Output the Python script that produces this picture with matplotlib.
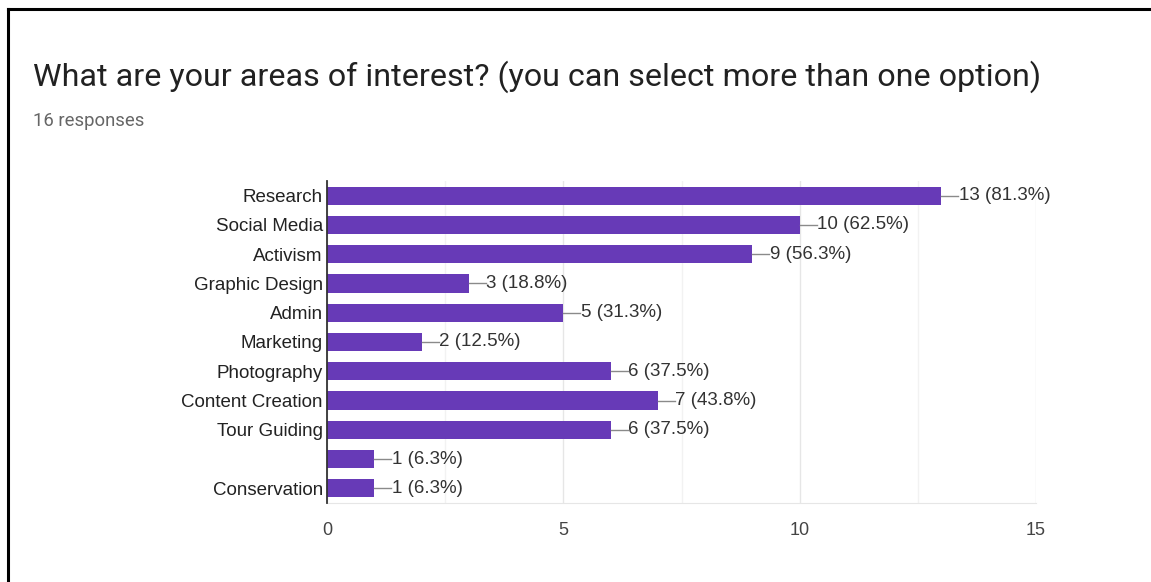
import matplotlib
matplotlib.use("Agg")
import matplotlib.pyplot as plt

categories = ["Research", "Social Media", "Activism", "Graphic Design", "Admin",
              "Marketing", "Photography", "Content Creation", "Tour Guiding", "",
              "Conservation"]
counts = [13, 10, 9, 3, 5, 2, 6, 7, 6, 1, 1]
percents = [81.3, 62.5, 56.3, 18.8, 31.3, 12.5, 37.5, 43.8, 37.5, 6.3, 6.3]
xticks = [0, 5, 10, 15]
title = "What are your areas of interest? (you can select more than one option)"
subtitle = "16 responses"

W, H = 1151, 582
fig = plt.figure(figsize=(W / 100, H / 100), dpi=100)
fig.patch.set_facecolor("white")

# frame border
fig.add_artist(plt.Line2D([8 / W, 8 / W], [0, 1 - 9 / H], color="black", lw=2.2,
                          transform=fig.transFigure))
fig.add_artist(plt.Line2D([8 / W, 1], [1 - 9 / H, 1 - 9 / H], color="black", lw=2.2,
                          transform=fig.transFigure))

fig.text(33 / W, 1 - 86 / H, title, fontsize=23.2, family=["Roboto", "DejaVu Sans"],
         color="#212121", va="baseline", ha="left")
fig.text(33 / W, 1 - 121 / H, subtitle, fontsize=13.3, family=["Roboto", "DejaVu Sans"],
         color="#666666", va="center", ha="left")

x0, x1 = 327, 1036
y0, y1 = 181, 503
ax = fig.add_axes([x0 / W, 1 - y1 / H, (x1 - x0) / W, (y1 - y0) / H])

n = len(categories)
ypos = list(range(n))
ax.barh(ypos, counts, height=0.62, color="#673ab7", zorder=3)
ax.set_ylim(n - 0.5, -0.5)
ax.set_xlim(0, 15)

font = ["Liberation Sans", "DejaVu Sans"]
for y, c, p in zip(ypos, counts, percents):
    ax.plot([c, c + 0.36], [y, y], color="#8a8a8a", lw=1.0, zorder=4, clip_on=False)
    ax.text(c + 0.37, y, f"{c} ({p}%)", va="center", ha="left", fontsize=13.5,
            color="#333333", family=font, clip_on=False)

ax.set_yticks(ypos)
ax.set_yticklabels(categories, fontsize=13.5, color="#222222", family=font)
ax.set_xticks(xticks)
ax.set_xticklabels([str(t) for t in xticks], fontsize=13, color="#444444", family=font)
ax.set_xticks([2.5, 7.5, 12.5], minor=True)
ax.tick_params(axis="both", length=0, which="both")
ax.tick_params(axis="x", pad=14)
ax.tick_params(axis="y", pad=3)

ax.grid(axis="x", which="major", color="#e6e6e6", lw=1.0, zorder=0)
ax.grid(axis="x", which="minor", color="#f2f2f2", lw=1.0, zorder=0)
for s in ["top", "right"]:
    ax.spines[s].set_visible(False)
ax.spines["bottom"].set_color("#e6e6e6")
ax.spines["left"].set_color("#333333")
ax.spines["left"].set_linewidth(1.3)
ax.spines["left"].set_zorder(5)

fig.savefig("out.png", dpi=100, facecolor="white")
